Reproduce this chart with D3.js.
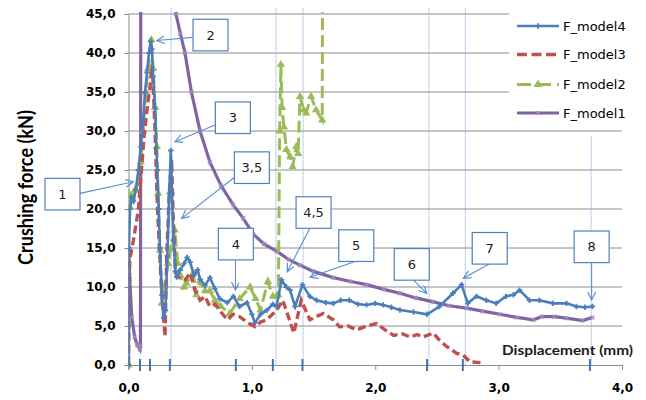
<!DOCTYPE html>
<html><head><meta charset="utf-8">
<script src="https://cdn.jsdelivr.net/npm/d3@7"></script>
<style>body{margin:0;background:#fff} svg{display:block}</style>
</head><body>
<svg id="c" width="646" height="400"></svg>
<script>
// ---------- data ----------
const xTicks = [0, 1, 2, 3, 4];
const yTicks = [0, 5, 10, 15, 20, 25, 30, 35, 40, 45];
const seriesNames = ["F_model4", "F_model3", "F_model2", "F_model1"];

const model4 = [[0,0],[0.003,15],[0.012,20],[0.025,21.5],[0.04,21],[0.06,22.5],[0.08,25],[0.1,28],[0.12,31.5],[0.134,35],[0.15,37.5],[0.166,40],[0.18,41.5],[0.19,40.5],[0.2,37],[0.215,33],[0.233,25],[0.245,20],[0.255,15],[0.27,9],[0.285,6],[0.3,7],[0.315,14],[0.33,22],[0.343,27.5],[0.352,22],[0.365,16],[0.38,12],[0.39,11.3],[0.42,12.2],[0.45,13],[0.475,13.8],[0.5,13.2],[0.53,11.5],[0.56,12.2],[0.58,11],[0.62,10.2],[0.66,11.2],[0.7,9.8],[0.74,8.5],[0.8,8],[0.85,8.8],[0.9,7.5],[0.96,8],[1.0,6.5],[1.025,5.4],[1.07,6.5],[1.12,7],[1.17,7.8],[1.2,7.5],[1.24,10.9],[1.28,10],[1.31,9.6],[1.35,7.5],[1.41,10.3],[1.47,8.8],[1.525,8.3],[1.6,8.0],[1.66,7.9],[1.72,8.3],[1.79,8.3],[1.86,7.8],[1.93,7.7],[2.0,7.9],[2.065,7.7],[2.13,7.4],[2.2,7.05],[2.31,6.8],[2.42,6.5],[2.52,7.5],[2.63,9.2],[2.70,10.3],[2.75,7.9],[2.82,8.8],[2.9,8.3],[2.98,7.9],[3.06,8.8],[3.12,9.0],[3.17,9.6],[3.25,8.3],[3.33,8.3],[3.44,7.9],[3.55,7.9],[3.63,7.5],[3.7,7.4],[3.76,7.5]];

const model3 = [[0,0],[0.005,8],[0.01,13.5],[0.04,16],[0.08,19.9],[0.1,24],[0.13,30],[0.16,34],[0.175,35.7],[0.19,38.5],[0.2,36],[0.215,30],[0.235,20],[0.26,12],[0.28,7],[0.296,3.6],[0.31,14],[0.33,22],[0.35,26.3],[0.36,20],[0.38,11.8],[0.42,11],[0.46,10.9],[0.5,11.8],[0.54,9.5],[0.58,8.3],[0.62,8.8],[0.66,7.5],[0.7,7.8],[0.74,7],[0.8,5.8],[0.85,6.5],[0.9,6.2],[0.96,5.5],[1.025,4.9],[1.07,5.5],[1.12,5.8],[1.2,7],[1.25,8.3],[1.3,6],[1.34,4.1],[1.40,8.3],[1.47,5.8],[1.52,6.2],[1.58,6.6],[1.66,5.8],[1.71,4.9],[1.78,5.0],[1.85,4.5],[1.93,5.0],[2.01,5.3],[2.08,4.5],[2.15,3.8],[2.22,4.0],[2.28,3.6],[2.34,3.9],[2.39,3.6],[2.47,4.1],[2.52,3.2],[2.58,2.35],[2.66,1.5],[2.71,1.3],[2.77,0.4],[2.86,0.3]];

const model2 = [[0,0],[0.002,22],[0.01,20.3],[0.03,21.5],[0.05,22.4],[0.08,23.3],[0.1,26],[0.12,30],[0.14,35],[0.16,38],[0.185,41.7],[0.2,38],[0.215,33],[0.23,28],[0.24,22],[0.255,14.7],[0.27,7.9],[0.29,10],[0.32,13],[0.345,15],[0.375,17.3],[0.4,13],[0.42,11.5],[0.45,10],[0.47,10.5],[0.525,11.8],[0.55,9],[0.58,10.8],[0.62,9.5],[0.66,9.5],[0.70,8.3],[0.75,7.5],[0.82,6.6],[0.9,8.5],[0.985,10],[1.03,8.5],[1.07,7.05],[1.13,10.7],[1.17,8.8],[1.20,8.8],[1.215,9],[1.225,30],[1.235,38.5],[1.245,33],[1.26,30.5],[1.28,27.6],[1.31,26.7],[1.33,25.4],[1.36,28],[1.375,27.1],[1.39,34.4],[1.42,32.7],[1.44,32.3],[1.48,34.4],[1.52,32.7],[1.57,31.4],[1.575,60]];

const model1 = [[0,0],[0.002,15],[0.01,11],[0.026,6.2],[0.05,3.6],[0.07,2.6],[0.093,2.0],[0.097,2.5],[0.1,60],[0.3,55],[0.385,45],[0.42,42.5],[0.458,40],[0.51,35],[0.58,30],[0.66,26],[0.75,23],[0.85,20.5],[0.93,18.8],[1.01,16.8],[1.1,15.5],[1.2,14.6],[1.3,13.5],[1.39,12.8],[1.5,12.0],[1.66,11.2],[1.8,10.7],[1.93,10.3],[2.07,9.7],[2.2,9.2],[2.33,8.6],[2.47,8.1],[2.6,7.6],[2.74,7.3],[2.87,6.9],[3.01,6.5],[3.15,6.1],[3.28,5.8],[3.35,6.2],[3.45,6.2],[3.55,6.0],[3.68,5.7],[3.76,6.1]];

// stage markers
const guideX = [0.345, 1.195, 1.415, 2.435, 2.73, 3.75];
const guideTop = [45.8, 45.8, 45.8, 45.8, 45.8, 29.4];
const stageTicks = [0.093, 0.174, 0.335, 0.87, 1.17, 1.41, 2.42, 2.71, 3.74];

// callouts (data coords)
const annLabels = ["1","2","3","3,5","4","4,5","5","6","7","8"];
const annBox  = [[-0.535,21.9],[0.665,42.3],[0.846,31.7],[1.0,25.3],[0.870,15.5],[1.5,19.55],[1.846,15.3],[2.296,12.9],[2.928,14.96],[3.754,15.15]];
const annFrom = [[-0.393,22.0],[0.520,42.0],[0.701,30.77],[0.871,24.2],[0.867,13.46],[1.471,17.56],[1.830,13.24],[2.308,10.9],[2.924,12.95],[3.754,13.12]];
const annTo   = [[0.039,23.5],[0.229,41.6],[0.377,28.63],[0.431,18.8],[0.867,9.62],[1.287,11.96],[1.471,11.24],[2.417,9.19],[2.714,11.12],[3.754,8.33]];

// ---------- chart ----------
const svg = d3.select("#c");
const x = d3.scaleLinear().domain([0, 4]).range([128.5, 622]);
const y = d3.scaleLinear().domain([0, 45]).range([365, 14]);
const fmt = v => d3.format(".1f")(v).replace(".", ",");

const gridC = "#8c8c8c";
svg.append("g").selectAll("line").data(yTicks.filter(v => v > 0)).join("line")
  .attr("x1", x(0)).attr("x2", x(4)).attr("y1", d => y(d)).attr("y2", d => y(d))
  .attr("stroke", gridC).attr("stroke-width", 1);

svg.append("g").selectAll("line").data(guideX).join("line")
  .attr("x1", d => x(d)).attr("x2", d => x(d))
  .attr("y1", (d, i) => y(guideTop[i])).attr("y2", y(0))
  .attr("stroke", "#7aa3d8").attr("stroke-width", 1).attr("stroke-dasharray", "1,1");

const yAxis = d3.axisLeft(y).tickValues(yTicks).tickFormat(fmt).tickSize(4).tickPadding(9);
const xAxis = d3.axisBottom(x).tickValues(xTicks).tickFormat(fmt).tickSize(5).tickPadding(13);
const gy = svg.append("g").attr("transform", `translate(${x(0)},0)`).call(yAxis);
const gx = svg.append("g").attr("transform", `translate(0,${y(0)})`).call(xAxis);
[gx, gy].forEach(g => {
  g.select(".domain").attr("stroke", gridC);
  g.selectAll(".tick line").attr("stroke", gridC);
  g.selectAll("text").attr("font-family", "DejaVu Sans").attr("font-weight", "bold")
    .attr("font-size", 12).attr("fill", "#000");
});

svg.append("defs").append("clipPath").attr("id", "plot")
  .append("rect").attr("x", x(0)).attr("y", 12).attr("width", x(4) - x(0) + 2).attr("height", y(0) - 12 + 3);

const line = d3.line().x(d => x(d[0])).y(d => y(d[1]));
const plot = svg.append("g").attr("clip-path", "url(#plot)");

const colors = { m4: "#4a7ebb", m3: "#c0504d", m2: "#9bbb59", m1: "#8064a2" };

// model1 purple
plot.append("path").datum(model1).attr("d", line).attr("fill", "none")
  .attr("stroke", colors.m1).attr("stroke-width", 3.2);
plot.append("g").selectAll("path").data(model1).join("path")
  .attr("d", d3.symbol(d3.symbolCross, 16))
  .attr("transform", d => `translate(${x(d[0])},${y(d[1])}) rotate(45)`)
  .attr("fill", "#a08cc0").attr("opacity", 0.8);

// model2 green
plot.append("path").datum(model2).attr("d", line).attr("fill", "none")
  .attr("stroke", colors.m2).attr("stroke-width", 3).attr("stroke-dasharray", "12,5");
plot.append("g").selectAll("path").data(model2).join("path")
  .attr("d", d3.symbol(d3.symbolTriangle, 30))
  .attr("transform", d => `translate(${x(d[0])},${y(d[1])})`)
  .attr("fill", colors.m2);

// model3 red
plot.append("path").datum(model3).attr("d", line).attr("fill", "none")
  .attr("stroke", colors.m3).attr("stroke-width", 3.4).attr("stroke-dasharray", "8,4");

// model4 blue
plot.append("path").datum(model4).attr("d", line).attr("fill", "none")
  .attr("stroke", colors.m4).attr("stroke-width", 2.6);
plot.append("g").selectAll("path").data(model4).join("path")
  .attr("d", d3.symbol(d3.symbolCross, 16))
  .attr("transform", d => `translate(${x(d[0])},${y(d[1])})`)
  .attr("fill", colors.m4);

svg.append("g").selectAll("line").data(stageTicks).join("line")
  .attr("x1", d => x(d)).attr("x2", d => x(d)).attr("y1", y(0) - 6).attr("y2", y(0) + 6)
  .attr("stroke", "#3f74b8").attr("stroke-width", 2);

// legend
svg.append("rect").attr("x", 509).attr("y", 0).attr("width", 137).attr("height", 124).attr("fill", "#fff");
const lg = svg.append("g");
const legendRows = [26, 54.5, 84.5, 113];
seriesNames.forEach((name, i) => {
  const yy = legendRows[i];
  const g = lg.append("g");
  if (i === 0) {
    g.append("line").attr("x1", 517).attr("x2", 559).attr("y1", yy).attr("y2", yy).attr("stroke", colors.m4).attr("stroke-width", 2.6);
    g.append("path").attr("d", d3.symbol(d3.symbolCross, 16)).attr("transform", `translate(538,${yy})`).attr("fill", colors.m4);
  } else if (i === 1) {
    g.append("line").attr("x1", 517).attr("x2", 559).attr("y1", yy).attr("y2", yy).attr("stroke", colors.m3).attr("stroke-width", 3.4).attr("stroke-dasharray", "10,4.5");
  } else if (i === 2) {
    g.append("line").attr("x1", 517).attr("x2", 559).attr("y1", yy).attr("y2", yy).attr("stroke", colors.m2).attr("stroke-width", 3).attr("stroke-dasharray", "14,6");
    g.append("path").attr("d", d3.symbol(d3.symbolTriangle, 34)).attr("transform", `translate(538,${yy})`).attr("fill", colors.m2);
  } else {
    g.append("line").attr("x1", 517).attr("x2", 559).attr("y1", yy).attr("y2", yy).attr("stroke", colors.m1).attr("stroke-width", 3);
    g.append("path").attr("d", d3.symbol(d3.symbolCross, 14)).attr("transform", `translate(538,${yy}) rotate(45)`).attr("fill", "#a08cc0");
  }
  g.append("text").attr("x", 563).attr("y", yy + 4.5).text(name)
    .attr("font-family", "DejaVu Sans").attr("font-size", 13).attr("fill", "#000");
});

// axis titles
svg.append("text").attr("transform", "translate(33,187.5) rotate(-90) scale(1,1.3)")
  .attr("text-anchor", "middle").attr("font-family", "Lato").attr("font-weight", "bold")
  .attr("font-size", 16).attr("textLength", 155).attr("lengthAdjust", "spacingAndGlyphs")
  .attr("fill", "#000").text("Crushing force (kN)");
svg.append("text").attr("x", 502).attr("y", 355)
  .attr("font-family", "Lato").attr("font-size", 14).attr("font-weight", "bold")
  .attr("textLength", 131).attr("lengthAdjust", "spacingAndGlyphs")
  .attr("fill", "#1a1a1a").text("Displacement (mm)");

// callouts
const defs = svg.select("defs");
defs.append("marker").attr("id", "arr").attr("markerUnits", "userSpaceOnUse")
  .attr("markerWidth", 10).attr("markerHeight", 10).attr("refX", 8).attr("refY", 4)
  .attr("orient", "auto").append("path").attr("d", "M0,0 L8,4 L0,8")
  .attr("fill", "none").attr("stroke", "#5b8fd0").attr("stroke-width", 1.2);
const ann = svg.append("g");
annLabels.forEach((lab, i) => {
  ann.append("line")
    .attr("x1", x(annFrom[i][0])).attr("y1", y(annFrom[i][1]))
    .attr("x2", x(annTo[i][0])).attr("y2", y(annTo[i][1]))
    .attr("stroke", "#5b8fd0").attr("stroke-width", 1.1).attr("marker-end", "url(#arr)");
});
annLabels.forEach((lab, i) => {
  const cx = x(annBox[i][0]), cy = y(annBox[i][1]);
  ann.append("rect").attr("x", cx - 17.5).attr("y", cy - 15.8).attr("width", 35).attr("height", 31.6)
    .attr("fill", "#fff").attr("stroke", "#4f81bd").attr("stroke-width", 1.2);
  ann.append("text").attr("x", cx).attr("y", cy + 4.5).attr("text-anchor", "middle")
    .attr("font-family", "DejaVu Sans").attr("font-size", 13).attr("fill", "#1a1a1a").text(lab);
});
</script>
</body></html>
